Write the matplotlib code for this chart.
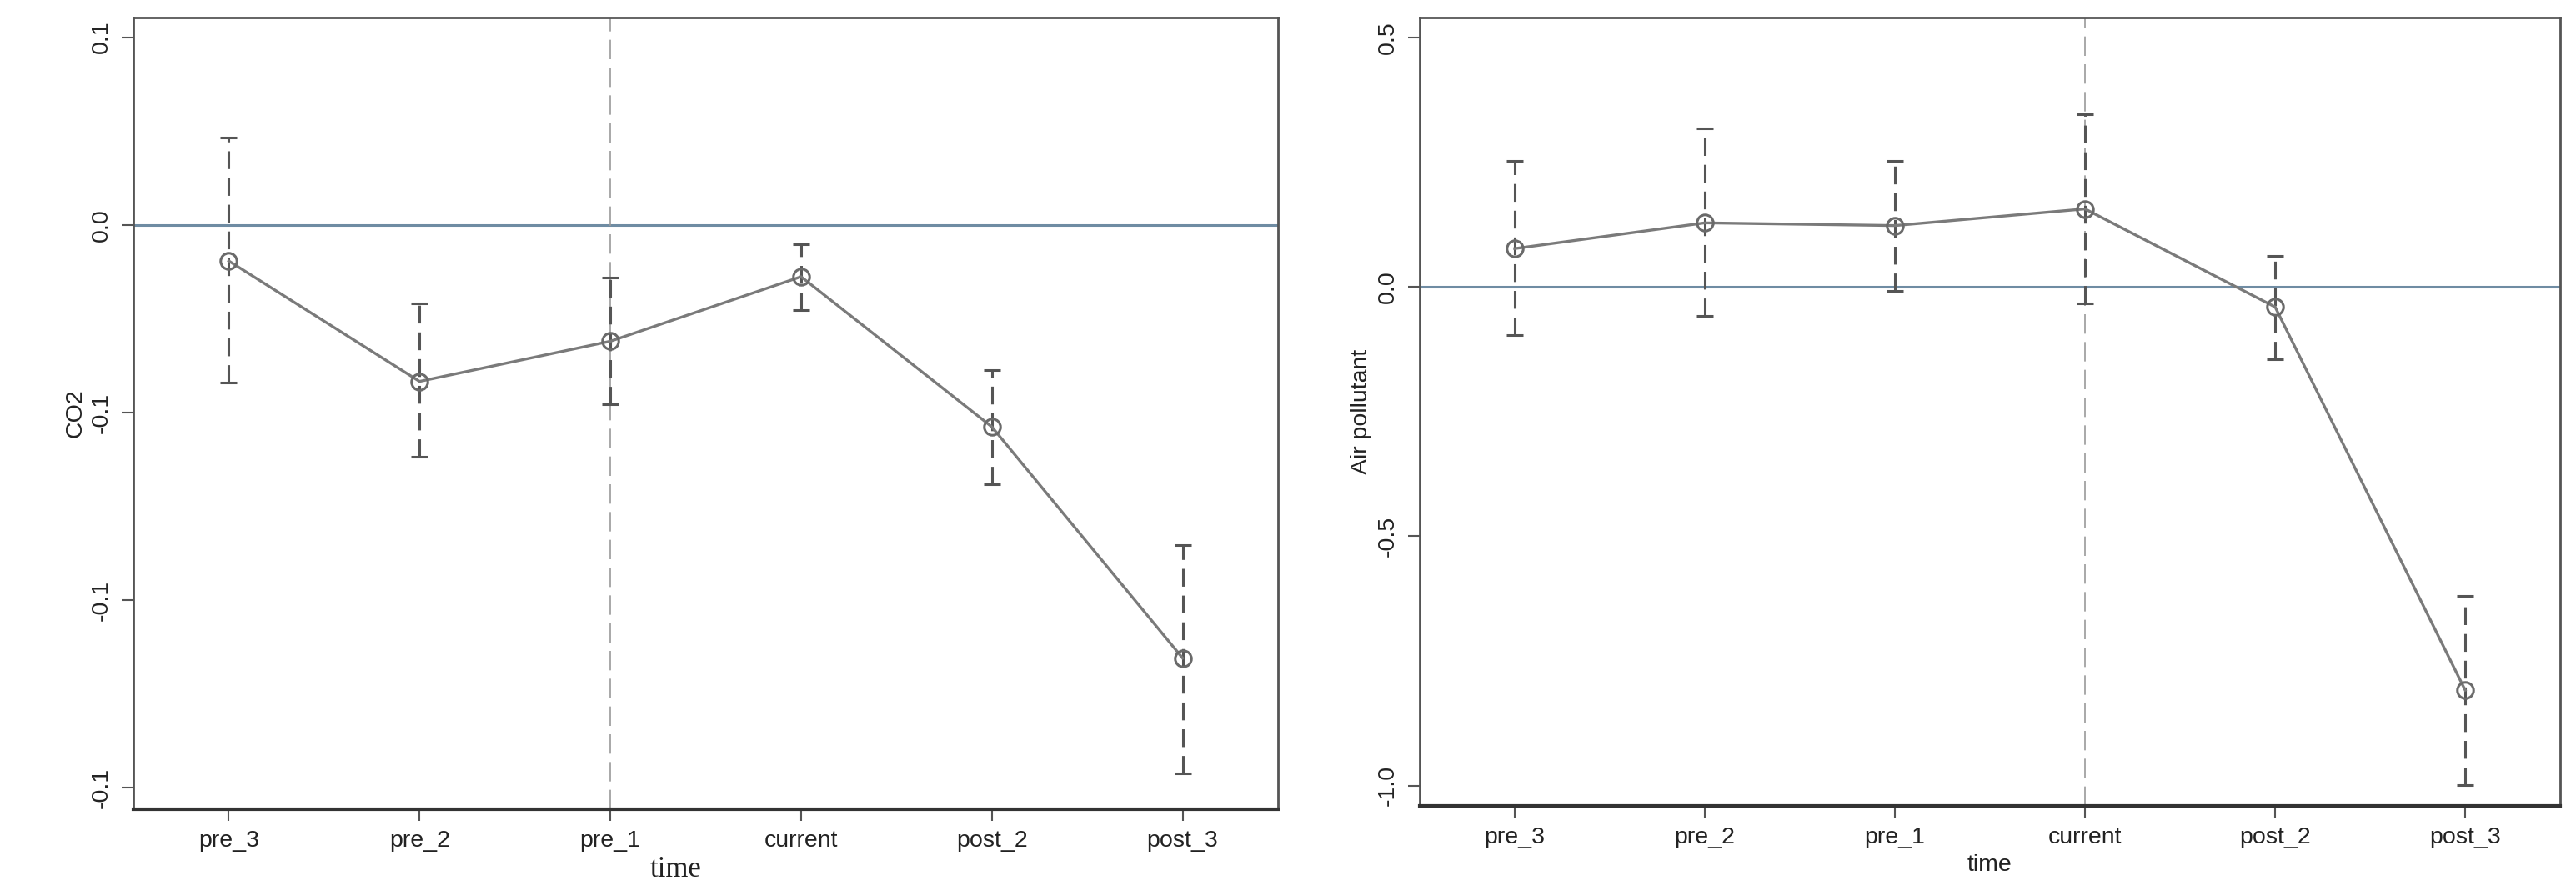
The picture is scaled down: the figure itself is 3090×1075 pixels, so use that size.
import matplotlib
import numpy as np

matplotlib.use("Agg")
import matplotlib.pyplot as plt

periods = ["pre_3", "pre_2", "pre_1", "current", "post_2", "post_3"]

# CO2 coefficients with confidence bounds
co2_coef = [-0.0096, -0.0417, -0.0310, -0.0138, -0.0538, -0.1154]
co2_hi = [0.0233, -0.0210, -0.0141, -0.0051, -0.0386, -0.0853]
co2_lo = [-0.0420, -0.0617, -0.0478, -0.0226, -0.0690, -0.1461]
co2_ticks = [0.05, 0.0, -0.05, -0.10, -0.15]
co2_ticklabels = ["0.1", "0.0", "-0.1", "-0.1", "-0.1"]

# air pollutant coefficients with confidence bounds
air_coef = [0.0765, 0.128, 0.1226, 0.156, -0.0406, -0.8088]
air_hi = [0.252, 0.318, 0.252, 0.345, 0.0612, -0.619]
air_lo = [-0.0977, -0.0586, -0.008, -0.0327, -0.1448, -0.9998]
air_ticks = [0.5, 0.0, -0.5, -1.0]
air_ticklabels = ["0.5", "0.0", "-0.5", "-1.0"]

plt.rcParams["font.family"] = ["Liberation Sans", "DejaVu Sans"]

fig = plt.figure(figsize=(30.9, 10.75), dpi=100)
ax1 = fig.add_axes([0.0518, 0.0967, 0.4443, 0.8840])
ax2 = fig.add_axes([0.5511, 0.1009, 0.4428, 0.8798])


def draw_panel(ax, coef, lo, hi, ticks, ticklabels, ylim, vline_x, ylabel):
    x = np.arange(len(periods))
    coef = np.array(coef)
    yerr = [coef - np.array(lo), np.array(hi) - coef]
    ax.axhline(0, color="#6f8ca3", lw=2.2, zorder=1)
    ax.axvline(vline_x, color="#9a9a9a", lw=1.2, linestyle=(0, (14, 6)), zorder=1)
    eb = ax.errorbar(x, coef, yerr=yerr, fmt="none", ecolor="#555555",
                     elinewidth=2.2, capsize=7.5, capthick=2.2, zorder=2)
    eb[2][0].set_linestyle((0, (7, 3.5)))
    ax.plot(x, coef, "-o", color="#7a7a7a", lw=2.4, markersize=14,
            markerfacecolor="none", markeredgecolor="#6a6a6a",
            markeredgewidth=2.2, zorder=3)
    ax.set_xlim(-0.5, len(periods) - 0.5)
    ax.set_ylim(*ylim)
    ax.set_xticks(x)
    ax.set_xticklabels(periods, fontsize=20.5, color="#222222")
    ax.set_yticks(ticks)
    ax.set_yticklabels(ticklabels, rotation=90, va="center", fontsize=20.5,
                       color="#222222")
    ax.tick_params(axis="both", length=10, width=1.5, color="#555555", pad=8)
    for side in ["left", "top", "right"]:
        ax.spines[side].set_linewidth(2.0)
        ax.spines[side].set_color("#555555")
    ax.spines["bottom"].set_linewidth(3.0)
    ax.spines["bottom"].set_color("#333333")
    ax.set_ylabel(ylabel, fontsize=20.5, color="#222222", labelpad=4)


draw_panel(ax1, co2_coef, co2_lo, co2_hi, co2_ticks, co2_ticklabels,
           (-0.1557, 0.0553), 2, "CO2")
draw_panel(ax2, air_coef, air_lo, air_hi, air_ticks, air_ticklabels,
           (-1.040, 0.540), 3, "Air pollutant")

fig.text(811 / 3090, 1 - 1043 / 1075, "time", fontsize=25, ha="center",
         va="center", family="Liberation Serif", color="#222222")
fig.text(2387 / 3090, 1 - 1038 / 1075, "time", fontsize=20.5, ha="center",
         va="center", color="#222222")

fig.savefig("out.png", dpi=100)
plt.close()
